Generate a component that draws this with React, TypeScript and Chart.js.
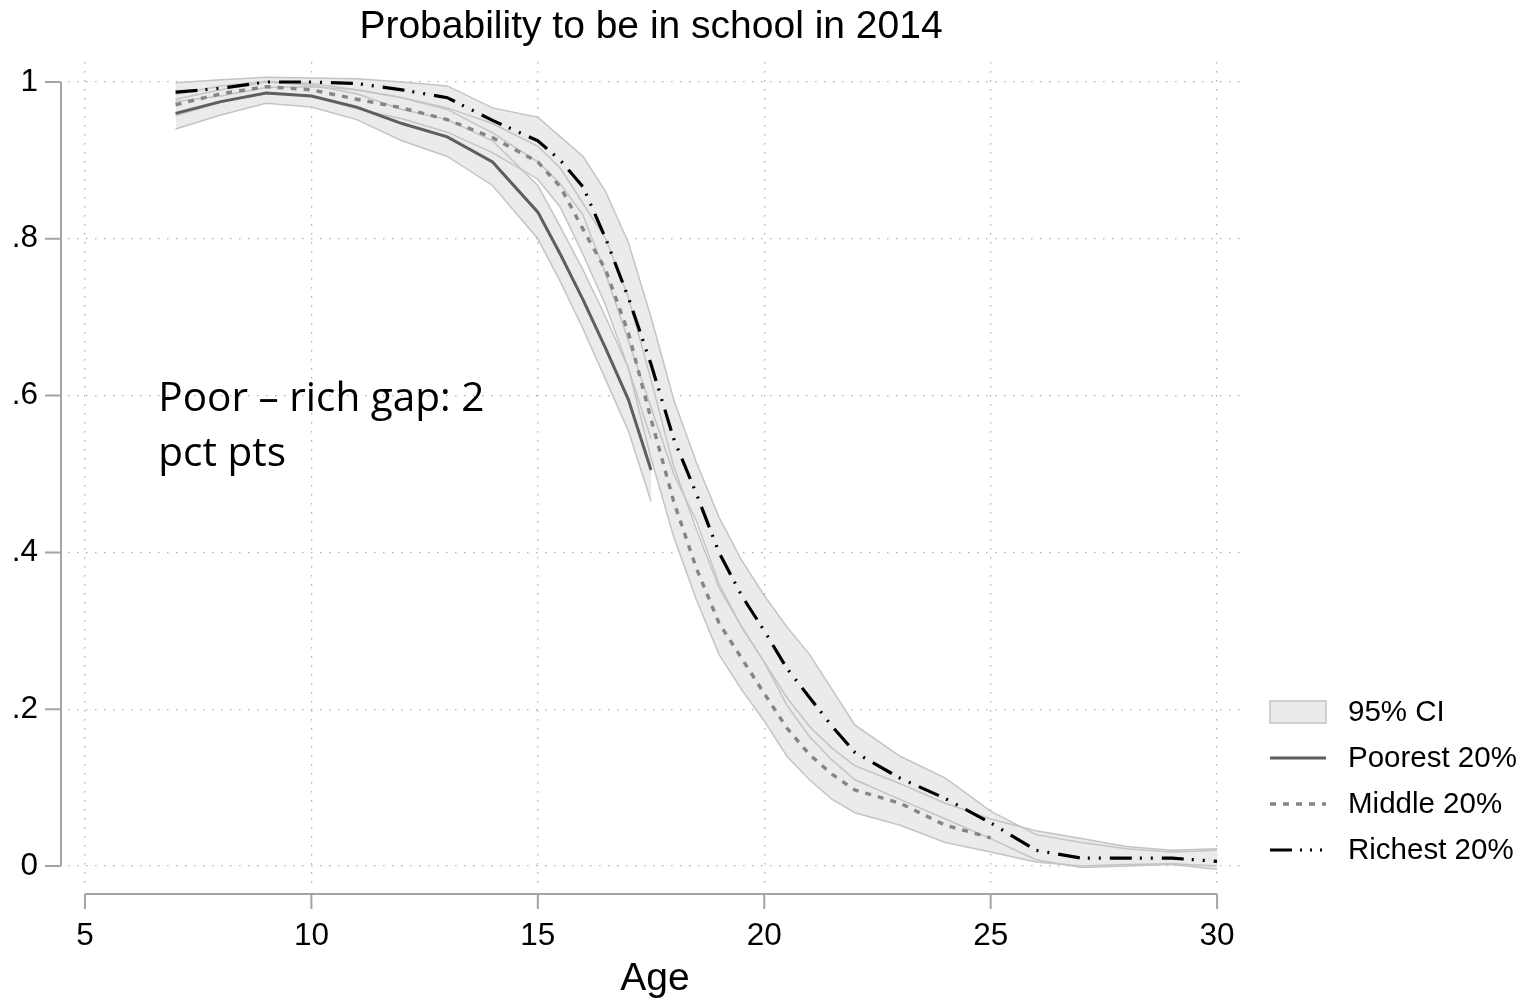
import React, { useEffect, useRef } from 'react';
import { Chart, registerables } from 'chart.js';

Chart.register(...registerables);

// ---------- data ----------
const AGES = [7, 8, 9, 10, 11, 12, 13, 14, 15, 15.5, 16, 16.5, 17, 17.5, 18, 18.5, 19, 19.5, 20, 20.5, 21, 21.5, 22, 23, 24, 25, 26, 27, 28, 29, 30];

const POOREST = [0.96, 0.975, 0.986, 0.982, 0.968, 0.947, 0.93, 0.898, 0.834, 0.78, 0.722, 0.66, 0.595, 0.505];
const POOREST_UP = [0.978, 0.99, 1.0, 0.996, 0.985, 0.965, 0.952, 0.925, 0.868, 0.815, 0.76, 0.7, 0.635, 0.545];
const POOREST_LO = [0.94, 0.958, 0.973, 0.968, 0.952, 0.925, 0.905, 0.868, 0.8, 0.745, 0.685, 0.62, 0.555, 0.465];

const MIDDLE = [0.971, 0.985, 0.994, 0.99, 0.978, 0.967, 0.952, 0.929, 0.898, 0.866, 0.812, 0.76, 0.68, 0.57, 0.465, 0.38, 0.31, 0.265, 0.22, 0.176, 0.142, 0.117, 0.097, 0.08, 0.052, 0.036];
const MIDDLE_UP = [0.984, 0.995, 1.001, 0.998, 0.99, 0.98, 0.967, 0.947, 0.918, 0.89, 0.845, 0.8, 0.725, 0.62, 0.51, 0.43, 0.355, 0.305, 0.26, 0.215, 0.178, 0.15, 0.128, 0.105, 0.08, 0.06, 0.045, 0.035, 0.025, 0.02, 0.022];
const MIDDLE_LO = [0.957, 0.974, 0.986, 0.982, 0.966, 0.953, 0.936, 0.91, 0.876, 0.84, 0.78, 0.715, 0.635, 0.52, 0.42, 0.34, 0.27, 0.225, 0.185, 0.14, 0.11, 0.085, 0.068, 0.052, 0.03, 0.018, 0.005, 0.0, 0.002, 0.003, 0.0];

const RICHEST = [0.987, 0.992, 1.0, 1.0, 0.998, 0.99, 0.98, 0.951, 0.925, 0.9, 0.866, 0.8, 0.725, 0.64, 0.545, 0.475, 0.4, 0.345, 0.3, 0.252, 0.215, 0.178, 0.145, 0.112, 0.086, 0.055, 0.02, 0.01, 0.01, 0.01, 0.006];
const RICHEST_UP = [0.999, 1.003, 1.006, 1.005, 1.004, 1.0, 0.995, 0.967, 0.955, 0.93, 0.905, 0.86, 0.795, 0.7, 0.595, 0.515, 0.445, 0.39, 0.345, 0.305, 0.27, 0.225, 0.18, 0.14, 0.112, 0.07, 0.04, 0.03, 0.022, 0.018, 0.02];
const RICHEST_LO = [0.975, 0.982, 0.993, 0.994, 0.99, 0.98, 0.965, 0.935, 0.898, 0.87, 0.83, 0.755, 0.67, 0.585, 0.5, 0.44, 0.36, 0.305, 0.26, 0.205, 0.165, 0.135, 0.11, 0.085, 0.06, 0.035, 0.008, -0.002, 0.0, 0.002, -0.004];

const X_TICKS = [5, 10, 15, 20, 25, 30];
const Y_TICKS = [0, 0.2, 0.4, 0.6, 0.8, 1];
const Y_TICK_LABELS = ['0', '.2', '.4', '.6', '.8', '1'];

const TITLE = 'Probability to be in school in 2014';
const X_TITLE = 'Age';
const NOTE_LINES = ['Poor \u2013 rich gap: 2', 'pct pts'];
const NOTE_POS = { x: 6.62, y: 0.58 };
const LEGEND_LABELS = ['95% CI', 'Poorest 20%', 'Middle 20%', 'Richest 20%'];

// ---------- styles ----------
const FONT = '"Liberation Sans", Arial, sans-serif';
const BAND_FILL = '#ebebeb';
const BAND_EDGE = '#c4c4c4';
const AXIS_COLOR = '#a4a4a4';
const GRID_COLOR = '#b0b0b0';

const pts = (vals: number[]) => vals.map((v, i) => ({ x: AGES[i], y: v }));

const overlayPlugin = {
  id: 'overlay',
  afterDraw(chart: any) {
    const { ctx, chartArea, scales } = chart;
    const xs = scales.x;
    const ys = scales.y;
    ctx.save();
    // axes (Stata style, offset from plot region)
    ctx.strokeStyle = AXIS_COLOR;
    ctx.lineWidth = 2;
    ctx.setLineDash([]);
    const ax = chartArea.left - 7;
    ctx.beginPath();
    ctx.moveTo(ax, ys.getPixelForValue(0));
    ctx.lineTo(ax, ys.getPixelForValue(1));
    Y_TICKS.forEach((v) => {
      const p = ys.getPixelForValue(v);
      ctx.moveTo(ax - 16, p);
      ctx.lineTo(ax, p);
    });
    ctx.stroke();
    const ay = chartArea.bottom + 8;
    ctx.beginPath();
    ctx.moveTo(xs.getPixelForValue(5), ay);
    ctx.lineTo(xs.getPixelForValue(30), ay);
    X_TICKS.forEach((v) => {
      const p = xs.getPixelForValue(v);
      ctx.moveTo(p, ay);
      ctx.lineTo(p, ay + 15);
    });
    ctx.stroke();

    // title
    ctx.fillStyle = '#000';
    ctx.font = `39px ${FONT}`;
    ctx.textAlign = 'center';
    ctx.textBaseline = 'alphabetic';
    ctx.fillText(TITLE, 651, 38);

    // note
    ctx.font = '40.5px "Open Sans", "Noto Sans", sans-serif';
    ctx.textAlign = 'left';
    const nx = xs.getPixelForValue(NOTE_POS.x);
    const ny = ys.getPixelForValue(NOTE_POS.y);
    NOTE_LINES.forEach((t, i) => ctx.fillText(t, nx, ny + i * 55));

    // legend
    const ds = chart.data.datasets;
    const lx = chartArea.right + 28;
    const sw = 56;
    const tx = lx + 78;
    const rows = [712, 758, 804, 850];
    ctx.font = `29.5px ${FONT}`;
    ctx.textBaseline = 'middle';
    // CI box
    ctx.fillStyle = ds[3].backgroundColor;
    ctx.fillRect(lx, rows[0] - 11, sw, 22);
    ctx.strokeStyle = ds[3].borderColor;
    ctx.lineWidth = 1.5;
    ctx.strokeRect(lx, rows[0] - 11, sw, 22);
    const lineItems = [
      { d: ds[2], dash: [] as number[] },
      { d: ds[1], dash: [6, 7] },
      { d: ds[0], dash: [22, 8, 2, 8, 2, 8, 2, 8] },
    ];
    lineItems.forEach((it, i) => {
      const y = rows[i + 1];
      ctx.strokeStyle = it.d.borderColor;
      ctx.lineWidth = it.d.borderWidth;
      ctx.setLineDash(it.dash);
      ctx.beginPath();
      ctx.moveTo(lx, y);
      ctx.lineTo(lx + sw, y);
      ctx.stroke();
    });
    ctx.setLineDash([]);
    ctx.fillStyle = '#000';
    LEGEND_LABELS.forEach((t, i) => ctx.fillText(t, tx, rows[i] + 1));
    ctx.restore();
  },
};

export default function App() {
  const ref = useRef<HTMLCanvasElement | null>(null);
  useEffect(() => {
    if (!ref.current) return;
    const lineBase = { pointRadius: 0, pointHoverRadius: 0, fill: false, tension: 0, borderCapStyle: 'butt' };
    const bandBase = { pointRadius: 0, pointHoverRadius: 0, borderColor: BAND_EDGE, borderWidth: 1.5, backgroundColor: BAND_FILL, order: 5, tension: 0 };
    const chart = new Chart(ref.current, {
      type: 'line',
      data: {
        datasets: [
          { ...lineBase, label: 'Richest 20%', data: pts(RICHEST), borderColor: '#000000', borderWidth: 3.2, borderDash: [22, 8, 2, 9, 2, 9], order: 0 },
          { ...lineBase, label: 'Middle 20%', data: pts(MIDDLE), borderColor: '#858585', borderWidth: 3.4, borderDash: [6, 7], order: 1 },
          { ...lineBase, label: 'Poorest 20%', data: pts(POOREST), borderColor: '#5e5e5e', borderWidth: 3, order: 2 },
          { ...bandBase, label: 'Richest upper', data: pts(RICHEST_UP), fill: 4 },
          { ...bandBase, label: 'Richest lower', data: pts(RICHEST_LO), fill: false },
          { ...bandBase, label: 'Middle upper', data: pts(MIDDLE_UP), fill: 6 },
          { ...bandBase, label: 'Middle lower', data: pts(MIDDLE_LO), fill: false },
          { ...bandBase, label: 'Poorest upper', data: pts(POOREST_UP), fill: 8 },
          { ...bandBase, label: 'Poorest lower', data: pts(POOREST_LO), fill: false },
        ] as any,
      },
      options: {
        animation: false,
        responsive: false,
        maintainAspectRatio: false,
        layout: { padding: { left: 0, right: 284, top: 62, bottom: 0 } },
        plugins: {
          legend: { display: false },
          tooltip: { enabled: false },
          title: { display: false },
          filler: { drawTime: 'beforeDatasetsDraw', propagate: false },
        },
        scales: {
          x: {
            type: 'linear',
            min: 4.625,
            max: 30.55,
            afterBuildTicks: (s: any) => { s.ticks = X_TICKS.map((v) => ({ value: v })); },
            afterFit: (s: any) => { s.height = 117; },
            ticks: {
              autoSkip: false,
              maxRotation: 0,
              padding: 31,
              color: '#000',
              font: { family: FONT, size: 31.5 },
              callback: (v: any) => String(v),
            },
            grid: { color: GRID_COLOR, lineWidth: 1.3, drawTicks: false },
            border: { display: false, dash: [1.5, 7.5] },
            title: { display: true, text: X_TITLE, color: '#000', font: { family: FONT, size: 39 }, padding: { top: 0, bottom: 0 } },
          },
          y: {
            type: 'linear',
            min: -0.0255,
            max: 1.0255,
            afterBuildTicks: (s: any) => { s.ticks = Y_TICKS.map((v) => ({ value: v })); },
            afterFit: (s: any) => { s.width = 68; },
            ticks: {
              autoSkip: false,
              padding: 30,
              color: '#000',
              font: { family: FONT, size: 31.5 },
              callback: (_v: any, i: number) => Y_TICK_LABELS[i],
            },
            grid: { color: GRID_COLOR, lineWidth: 1.3, drawTicks: false },
            border: { display: false, dash: [1.5, 7.5] },
          },
        },
      } as any,
      plugins: [overlayPlugin],
    });
    return () => chart.destroy();
  }, []);

  return (
    <div style={{ position: 'fixed', left: 0, top: 0, width: 1526, height: 1003, background: '#fff' }}>
      <canvas ref={ref} width={1526} height={1003} style={{ display: 'block', width: 1526, height: 1003 }} />
    </div>
  );
}
